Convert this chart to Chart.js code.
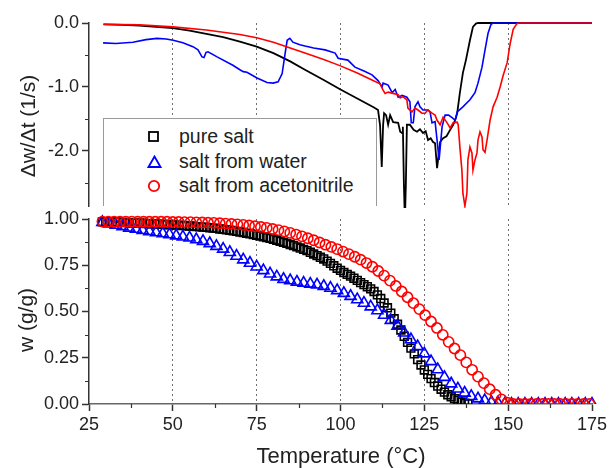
<!DOCTYPE html>
<html>
<head>
<meta charset="utf-8">
<title>Drying of salt samples</title>
<script src="https://cdn.jsdelivr.net/npm/chart.js@4.4.1/dist/chart.umd.min.js"></script>
<style>
  html, body { margin: 0; padding: 0; background: #fff; }
  #wrap { position: relative; width: 610px; height: 468px; overflow: hidden;
          font-family: "Liberation Sans", Arial, sans-serif; color: #222; }
  canvas { position: absolute; left: 0; top: 0; }
  .title { position: absolute; font-size: 21px; white-space: nowrap; line-height: 1; }
  .ytitle { transform: translate(-50%, -50%) rotate(-90deg); }
  .xtitle { transform: translate(-50%, -50%); font-size: 22px; }
  #legend { position: absolute; left: 103px; top: 118px; width: 274px; height: 88px;
            box-sizing: border-box; background: #fff; border: 1px solid #9a9a9a; border-bottom: none; }
  .row { position: absolute; left: 0; height: 24px; width: 100%; }
  .row svg { position: absolute; left: 43px; top: 5px; }
  .row span { position: absolute; left: 75px; top: 0px; font-size: 19.5px; color: #222; white-space: nowrap; }
</style>
</head>
<body>
<div id="wrap">
  <canvas id="massCanvas" width="610" height="468"></canvas>
  <canvas id="rateCanvas" width="610" height="210"></canvas>
  <div id="legend"></div>
  <div class="title ytitle" style="left:27px; top:126px;">Δw/Δt (1/s)</div>
  <div class="title ytitle" style="left:25px; top:320px;">w (g/g)</div>
  <div class="title xtitle" style="left:341px; top:456px;">Temperature (°C)</div>
</div>
<script>
// ---- series names and colours ----
const seriesNames = ['pure salt', 'salt from water', 'salt from acetonitrile'];
const seriesColors = ['#000000', '#0000ff', '#ff0000'];

// ---- axis ticks ----
const tempTicks = [25, 50, 75, 100, 125, 150, 175];
const tempMinor = [37.5, 62.5, 87.5, 112.5, 137.5, 162.5];
const rateTicks = [0, -1, -2];
const rateMinor = [-0.5, -1.5, -2.5];
const massTicks = [0, 0.25, 0.5, 0.75, 1];
const massMinor = [0.125, 0.375, 0.625, 0.875];

// ---- drying rate, dw/dt (1/s) ----
const rateTempPure = [29.3, 35, 40, 45, 50, 55, 60, 65, 70, 75, 80, 85, 89.4, 95, 100, 105, 110, 111.2, 111.8, 112.3,
  112.7, 113.0, 113.6, 114.2, 114.8, 115.7, 117.2, 117.8, 118.4, 118.6, 118.9, 119.2, 119.5, 119.8, 120.7, 121.8,
  122.8, 123.7, 124.6, 125.4, 126.1, 126.9, 127.6, 128.2, 128.8, 129.3, 129.7, 130.6, 131.6, 132.7, 133.6, 134.3,
  134.8, 135.6, 136.5, 137.4, 138.6, 139.5, 140.4, 141, 175];
const ratePure = [-0.02, -0.03, -0.04, -0.06, -0.08, -0.12, -0.17, -0.22, -0.29, -0.37, -0.47, -0.60, -0.73, -0.89,
  -1.04, -1.18, -1.32, -1.36, -1.6, -2.25, -1.6, -1.41, -1.44, -1.59, -1.44, -1.55, -1.56, -1.70, -1.72, -1.62, -2.5,
  -3.1, -2.5, -1.59, -1.59, -1.67, -1.70, -1.66, -1.72, -1.69, -1.83, -1.80, -1.86, -1.88, -2.27, -2.05, -1.86, -1.80,
  -1.77, -1.67, -1.59, -1.50, -1.41, -1.09, -0.78, -0.58, -0.27, -0.06, -0.01, 0, 0];

const rateTempWater = [29.2, 33, 38.1, 42, 45.3, 48, 50.1, 53, 56.0, 57.5, 58.7, 59.3, 59.9, 60.5, 63.2, 67.9, 70.0,
  71, 72.1, 75.1, 78.1, 79.9, 81.4, 82.6, 83.5, 84.1, 84.9, 85.8, 87.9, 89.4, 92, 95.4, 98.4, 99.3, 102.2, 104.3, 107,
  109.4, 111.2, 112.4, 112.7, 114.2, 115.4, 116.3, 117.2, 118.4, 119.8, 120.7, 121.1, 121.7, 122.2, 123.1, 123.7,
  124.6, 126.1, 126.7, 127.3, 128.2, 128.8, 129.4, 130.3, 131.2, 132.2, 133.3, 134.2, 134.8, 136.5, 138.6, 140.1,
  141.0, 142.2, 143.1, 144.0, 144.9, 145.5, 175];
const rateWater = [-0.31, -0.32, -0.30, -0.26, -0.24, -0.25, -0.27, -0.31, -0.37, -0.42, -0.53, -0.54, -0.46, -0.45,
  -0.53, -0.66, -0.73, -0.76, -0.77, -0.86, -0.93, -0.94, -0.92, -0.79, -0.47, -0.27, -0.24, -0.30, -0.34, -0.36,
  -0.39, -0.42, -0.47, -0.55, -0.58, -0.69, -0.75, -0.81, -0.90, -1.00, -0.94, -0.97, -1.09, -1.04, -1.16, -1.13,
  -1.16, -1.23, -1.56, -1.56, -1.31, -1.23, -1.31, -1.36, -1.36, -1.39, -1.56, -1.54, -1.83, -2.14, -1.62, -1.44,
  -1.44, -1.48, -1.52, -1.39, -1.31, -1.20, -1.09, -0.94, -0.69, -0.42, -0.16, -0.02, 0, 0];

const rateTempAcn = [29.3, 40, 50, 60, 70, 75, 80, 85, 89.4, 95, 100, 105, 109.7, 111.8, 112.7, 113.3, 114.2, 115.7,
  117.2, 117.8, 118.6, 119.8, 120.1, 121.3, 122.2, 123.1, 124.3, 125.2, 126.1, 127.3, 128.2, 128.8, 129.7, 130.6,
  131.8, 132.7, 133.6, 134.8, 135.1, 135.6, 136.2, 136.5, 137.1, 137.7, 138.0, 138.6, 139.2, 139.5, 140.1, 140.7,
  141.0, 141.6, 142.2, 142.5, 143.1, 143.7, 144.6, 145.5, 146.7, 147.6, 148.5, 149.7, 150.6, 151.5, 152.6, 153.2, 175];
const rateAcn = [-0.02, -0.03, -0.06, -0.11, -0.18, -0.23, -0.30, -0.39, -0.47, -0.57, -0.67, -0.78, -0.90, -0.95,
  -1.05, -1.10, -1.08, -1.10, -1.12, -1.17, -1.15, -1.20, -1.33, -1.39, -1.33, -1.36, -1.41, -1.41, -1.36, -1.41,
  -1.44, -1.52, -1.59, -1.47, -1.56, -1.64, -1.56, -1.55, -1.59, -1.94, -2.30, -2.66, -2.86, -2.66, -2.14, -1.94,
  -2.03, -2.30, -2.14, -2.03, -1.83, -1.70, -1.78, -1.98, -2.02, -1.83, -1.52, -1.31, -1.16, -1.00, -0.82, -0.62,
  -0.32, -0.10, -0.01, 0, 0];

// ---- mass fraction remaining, w (g/g) ----
const tempPure = [29, 30, 31, 32, 33, 34, 35, 36, 37, 38, 39, 40, 41, 42, 43, 44, 45, 46, 47, 48, 49, 50, 51, 52, 53,
  54, 55, 56, 57, 58, 59, 60, 61, 62, 63, 64, 65, 66, 67, 68, 69, 70, 71, 72, 73, 74, 75, 76, 77, 78, 79, 80, 81, 82,
  83, 84, 85, 86, 87, 88, 89, 90, 91, 92, 93, 94, 95, 96, 97, 98, 99, 100, 101, 102, 103, 104, 105, 106, 107, 108,
  109, 110, 111, 112, 113, 114, 115, 116, 117, 118, 119, 120, 121, 122, 123, 124, 125, 126, 127, 128, 129, 130, 131,
  132, 133, 134, 135, 136, 137, 138];
const wPure = [0.985, 0.985, 0.984, 0.984, 0.983, 0.983, 0.982, 0.981, 0.980, 0.979, 0.978, 0.978, 0.977, 0.976,
  0.975, 0.974, 0.973, 0.972, 0.971, 0.970, 0.969, 0.968, 0.967, 0.966, 0.965, 0.963, 0.962, 0.961, 0.959, 0.958,
  0.956, 0.955, 0.953, 0.951, 0.949, 0.946, 0.944, 0.941, 0.939, 0.936, 0.933, 0.930, 0.927, 0.923, 0.920, 0.916,
  0.912, 0.908, 0.904, 0.899, 0.895, 0.890, 0.885, 0.879, 0.874, 0.868, 0.862, 0.856, 0.849, 0.843, 0.836, 0.829,
  0.820, 0.811, 0.802, 0.793, 0.784, 0.772, 0.760, 0.747, 0.734, 0.722, 0.711, 0.701, 0.691, 0.680, 0.668, 0.656,
  0.645, 0.634, 0.622, 0.608, 0.590, 0.570, 0.546, 0.520, 0.491, 0.461, 0.431, 0.400, 0.366, 0.333, 0.302, 0.271,
  0.240, 0.211, 0.184, 0.160, 0.137, 0.116, 0.097, 0.080, 0.064, 0.050, 0.039, 0.029, 0.020, 0.011, 0.004, 0.001];

const tempWater = [29, 31, 33, 35, 37, 39, 41, 43, 45, 47, 49, 51, 53, 55, 57, 59, 61, 63, 65, 67, 69, 71, 73, 75,
  77, 79, 81, 83, 85, 87, 89, 91, 93, 95, 97, 99, 101, 103, 105, 107, 109, 111, 113, 115, 117, 119, 121, 123, 125,
  127, 129, 131, 133, 135, 137, 139, 141, 143, 145, 147, 149, 151, 153, 155, 157, 159, 161, 163, 165, 167, 169, 171,
  173, 175];
const wWater = [0.982, 0.974, 0.967, 0.960, 0.952, 0.946, 0.939, 0.933, 0.927, 0.921, 0.916, 0.910, 0.904, 0.898,
  0.889, 0.880, 0.868, 0.853, 0.838, 0.820, 0.800, 0.780, 0.762, 0.742, 0.722, 0.704, 0.688, 0.675, 0.667, 0.660,
  0.654, 0.649, 0.644, 0.637, 0.627, 0.614, 0.599, 0.583, 0.565, 0.546, 0.526, 0.505, 0.481, 0.453, 0.421, 0.385,
  0.348, 0.311, 0.272, 0.230, 0.186, 0.145, 0.110, 0.082, 0.060, 0.042, 0.029, 0.019, 0.010, 0.004, 0.001, 0, 0, 0,
  0, 0, 0, 0, 0, 0, 0, 0, 0, 0];

const tempAcn = [29, 30.75, 32.5, 34.25, 36, 37.75, 39.5, 41.25, 43, 44.75, 46.5, 48.25, 50, 51.75, 53.5, 55.25, 57,
  58.75, 60.5, 62.25, 64, 65.75, 67.5, 69.25, 71, 72.75, 74.5, 76.25, 78, 79.75, 81.5, 83.25, 85, 86.75, 88.5, 90.25,
  92, 93.75, 95.5, 97.25, 99, 100.75, 102.5, 104.25, 106, 107.75, 109.5, 111.25, 113, 114.75, 116.5, 118.25, 120,
  121.75, 123.5, 125.25, 127, 128.75, 130.5, 132.25, 134, 135.75, 137.5, 139.25, 141, 142.75, 144.5, 146.25, 148,
  149.75, 151.5, 153.25, 155, 156.75, 158.5, 160.25, 162, 163.75, 165.5, 167.25, 169, 170.75, 172.5, 174.25];
const wAcn = [0.986, 0.986, 0.986, 0.986, 0.986, 0.986, 0.985, 0.985, 0.985, 0.985, 0.985, 0.985, 0.984, 0.984,
  0.983, 0.983, 0.982, 0.981, 0.980, 0.979, 0.977, 0.975, 0.973, 0.971, 0.968, 0.965, 0.961, 0.957, 0.952, 0.946,
  0.940, 0.933, 0.925, 0.916, 0.906, 0.896, 0.885, 0.873, 0.861, 0.849, 0.837, 0.824, 0.810, 0.796, 0.780, 0.762,
  0.742, 0.719, 0.694, 0.667, 0.638, 0.608, 0.577, 0.545, 0.513, 0.480, 0.446, 0.411, 0.374, 0.336, 0.300, 0.264,
  0.225, 0.185, 0.148, 0.113, 0.080, 0.050, 0.025, 0.007, 0, 0, 0, 0, 0, 0, 0, 0, 0, 0, 0, 0, 0, 0];

// ---- helpers ----
const pairs = (xs, ys) => xs.map((x, i) => ({ x: x, y: ys[i] }));

Chart.defaults.font.family = "'Liberation Sans', Arial, sans-serif";
Chart.defaults.color = '#222';

// short unlabelled ticks between the labelled ones
const minorTicks = {
  id: 'minorTicks',
  afterDraw(chart, args, opts) {
    const ctx = chart.ctx;
    ctx.save();
    ctx.strokeStyle = opts.color;
    ctx.lineWidth = opts.width;
    ctx.beginPath();
    const sx = chart.scales.x, sy = chart.scales.y;
    (opts.x || []).forEach(v => {
      const px = Math.round(sx.getPixelForValue(v)) + 0.5;
      ctx.moveTo(px, sx.top);
      ctx.lineTo(px, sx.top + opts.length);
    });
    (opts.y || []).forEach(v => {
      const py = Math.round(sy.getPixelForValue(v)) + 0.5;
      ctx.moveTo(sy.right - opts.length, py);
      ctx.lineTo(sy.right, py);
    });
    ctx.stroke();
    ctx.restore();
  }
};

function tempAxis(labelled) {
  return {
    type: 'linear', min: 25, max: 175,
    afterBuildTicks: s => { s.ticks = tempTicks.map(v => ({ value: v })); },
    afterFit: s => { s.height = labelled ? 40 : 0; s.paddingLeft = 0; s.paddingRight = 0; },
    grid: {
      display: true, drawOnChartArea: true, drawTicks: labelled, tickLength: 7,
      color: c => (c.tick && (c.tick.value === 25 || c.tick.value === 175)) ? 'rgba(0,0,0,0)' : '#707070',
      lineWidth: 1, tickColor: '#333', tickWidth: 1.5, tickBorderDash: []
    },
    border: { display: labelled, color: '#666', width: 1.5, dash: [2, 3] },
    ticks: {
      display: labelled, padding: 3, color: '#222', font: { size: 18 },
      maxRotation: 0, autoSkip: false, callback: v => String(v)
    }
  };
}

function valueAxis(min, max, major, digits) {
  return {
    type: 'linear', min: min, max: max,
    afterBuildTicks: s => { s.ticks = major.map(v => ({ value: v })); },
    afterFit: s => { s.width = 89; s.paddingTop = 0; s.paddingBottom = 0; },
    grid: { display: true, drawOnChartArea: false, drawTicks: true, tickLength: 7, tickColor: '#333', tickWidth: 1.5 },
    border: { display: true, color: '#333', width: 1.5 },
    ticks: { padding: 3, color: '#222', font: { size: 18 }, callback: v => Number(v).toFixed(digits) }
  };
}

const baseOptions = {
  responsive: false,
  animation: false,
  events: [],
  plugins: { legend: { display: false }, tooltip: { enabled: false } }
};

// ---- upper panel: drying rate ----
const rateSeries = [
  [rateTempPure, ratePure], [rateTempWater, rateWater], [rateTempAcn, rateAcn]
];
new Chart(document.getElementById('rateCanvas'), {
  type: 'line',
  data: {
    datasets: rateSeries.map((s, i) => ({
      label: seriesNames[i],
      data: pairs(s[0], s[1]),
      borderColor: seriesColors[i],
      borderWidth: i === 0 ? 1.8 : 1.6,
      pointRadius: 0,
      tension: 0,
      fill: false,
      order: 3 - i,
      clip: { left: 4, right: 4, top: 3, bottom: 2 }
    }))
  },
  options: Object.assign({}, baseOptions, {
    layout: { padding: { top: 23, bottom: 4, left: 0, right: 18 } },
    scales: { x: tempAxis(false), y: valueAxis(-2.86, 0, rateTicks, 1) },
    plugins: Object.assign({}, baseOptions.plugins, {
      minorTicks: { y: rateMinor, length: 4, color: '#333', width: 1.2 }
    })
  }),
  plugins: [minorTicks]
});

// ---- lower panel: remaining mass fraction ----
const massSeries = [[tempPure, wPure], [tempWater, wWater], [tempAcn, wAcn]];
const markerStyles = ['rect', 'triangle', 'circle'];
const markerSizes = [5.5, 6.4, 5.1];
new Chart(document.getElementById('massCanvas'), {
  type: 'line',
  data: {
    datasets: massSeries.map((s, i) => ({
      label: seriesNames[i],
      data: pairs(s[0], s[1]),
      showLine: false,
      borderColor: seriesColors[i],
      backgroundColor: 'rgba(0,0,0,0)',
      pointStyle: markerStyles[i],
      pointRadius: markerSizes[i],
      pointBorderWidth: 1.6,
      pointBorderColor: seriesColors[i],
      pointBackgroundColor: 'rgba(0,0,0,0)',
      order: 3 - i,
      clip: { left: 8, right: 8, top: 10, bottom: 0 }
    }))
  },
  options: Object.assign({}, baseOptions, {
    layout: { padding: { top: 219, bottom: 24, left: 0, right: 18 } },
    scales: { x: tempAxis(true), y: valueAxis(0, 1, massTicks, 2) },
    plugins: Object.assign({}, baseOptions.plugins, {
      minorTicks: { x: tempMinor, y: massMinor, length: 4, color: '#333', width: 1.2 }
    })
  }),
  plugins: [minorTicks]
});

// ---- legend box ----
const legendMarks = [
  '<svg width="13" height="13"><rect x="2" y="2" width="9" height="9" fill="none" stroke="#000" stroke-width="1.8"/></svg>',
  '<svg width="15" height="14"><polygon points="7.5,1.5 13.5,12 1.5,12" fill="none" stroke="#0000ff" stroke-width="1.8"/></svg>',
  '<svg width="14" height="14"><circle cx="7" cy="7" r="5.2" fill="none" stroke="#ff0000" stroke-width="1.8"/></svg>'
];
const legend = document.getElementById('legend');
seriesNames.forEach((name, i) => {
  const row = document.createElement('div');
  row.className = 'row';
  row.style.top = (6 + i * 24.5) + 'px';
  row.innerHTML = legendMarks[i];
  const txt = document.createElement('span');
  txt.textContent = name;
  row.appendChild(txt);
  legend.appendChild(row);
});
</script>
</body>
</html>
